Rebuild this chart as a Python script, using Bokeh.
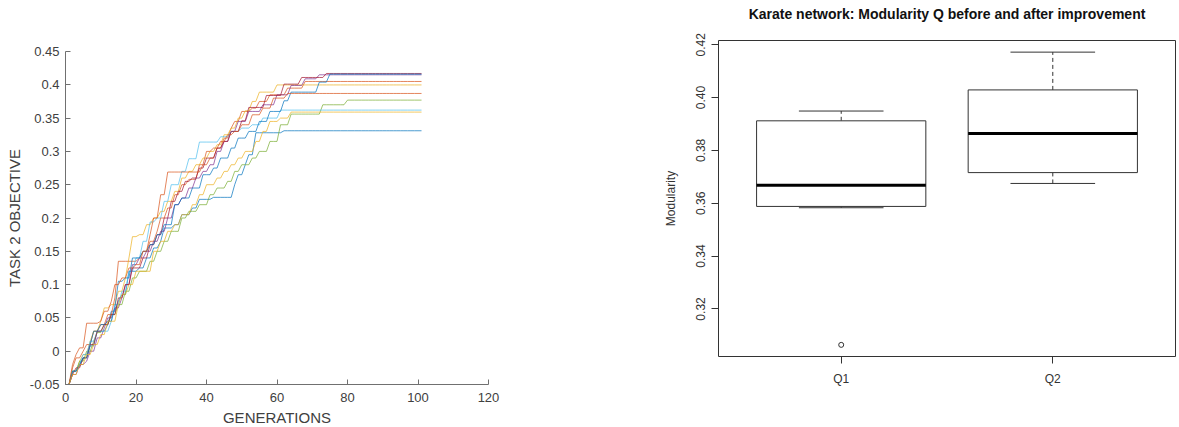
from bokeh.plotting import figure
from bokeh.models import FixedTicker, CustomJSTickFormatter, Range1d, Title
from bokeh.embed import file_html
from bokeh.resources import INLINE

# ---------------------------------------------------------------------------
# Task 2 objective per generation, stored as runs: generation where a level
# starts, and the objective level held from that generation onwards.
# ---------------------------------------------------------------------------
LAST_GEN = 101

run1_start = [1, 2, 4, 5, 7, 9, 12, 13, 15, 16, 18, 21, 23, 25, 27, 28, 31, 33, 36, 38, 42, 48, 49, 51, 52, 54, 62]
run1_level = [-0.05, -0.03, -0.022, -0.01, 0.008, 0.03, 0.04, 0.06, 0.075, 0.085, 0.12, 0.125, 0.14, 0.155, 0.165,
              0.185, 0.19, 0.205, 0.215, 0.228, 0.231, 0.25, 0.265, 0.28, 0.295, 0.328, 0.331]

run2_start = [1, 2, 3, 5, 6, 8, 10, 12, 14, 15, 21, 22, 24, 26, 27, 29, 31, 33, 35, 38, 41, 43, 45, 47, 48, 50, 53,
              55, 58, 63, 68]
run2_level = [-0.05, -0.025, -0.01, 0.0, 0.01, 0.03, 0.04, 0.055, 0.08, 0.135, 0.14, 0.15, 0.165, 0.18, 0.2, 0.215,
              0.235, 0.25, 0.258, 0.28, 0.29, 0.305, 0.32, 0.335, 0.345, 0.36, 0.365, 0.375, 0.385, 0.395, 0.405]

run3_start = [1, 2, 4, 5, 7, 8, 10, 11, 13, 15, 17, 18, 19, 21, 23, 25, 27, 29, 31, 33, 35, 37, 39, 41, 43, 45, 47,
              49, 51, 53, 55, 60]
run3_level = [-0.05, -0.03, -0.015, -0.005, 0.015, 0.03, 0.045, 0.065, 0.07, 0.09, 0.11, 0.14, 0.172, 0.175, 0.19,
              0.2, 0.21, 0.225, 0.24, 0.26, 0.27, 0.28, 0.29, 0.3, 0.31, 0.325, 0.335, 0.35, 0.361, 0.375, 0.389,
              0.3998]

run4_start = [1, 2, 4, 6, 7, 9, 11, 12, 14, 16, 17, 19, 21, 23, 25, 27, 29, 31, 33, 35, 37, 39, 41, 43, 45, 47, 49,
              52, 56, 60, 64, 68, 72]
run4_level = [-0.05, -0.035, -0.02, -0.015, 0.0, 0.02, 0.035, 0.05, 0.065, 0.08, 0.1, 0.13, 0.14, 0.15, 0.165, 0.18,
              0.2, 0.22, 0.23, 0.245, 0.26, 0.27, 0.28, 0.3, 0.315, 0.33, 0.345, 0.36, 0.37, 0.385, 0.399, 0.409,
              0.415]

run5_start = [1, 2, 4, 6, 8, 9, 11, 13, 15, 17, 19, 21, 24, 26, 28, 30, 33, 35, 38, 41, 43, 46, 48, 50, 53, 55, 58,
              61, 64, 73, 80]
run5_level = [-0.05, -0.03, -0.015, 0.0, 0.015, 0.028, 0.04, 0.055, 0.07, 0.09, 0.11, 0.12, 0.135, 0.15, 0.165, 0.18,
              0.2, 0.21, 0.22, 0.235, 0.245, 0.255, 0.27, 0.28, 0.29, 0.3, 0.315, 0.34, 0.356, 0.37, 0.377]

run6_start = [1, 2, 4, 5, 7, 9, 13, 14, 16, 18, 20, 22, 24, 26, 28, 30, 33, 35, 38, 44, 47, 50, 53, 56, 61]
run6_level = [-0.05, -0.03, -0.02, -0.005, 0.015, 0.03, 0.045, 0.07, 0.09, 0.12, 0.14, 0.165, 0.194, 0.2, 0.225, 0.25,
              0.27, 0.289, 0.314, 0.322, 0.33, 0.335, 0.34, 0.35, 0.362]

run7_start = [1, 2, 3, 5, 7, 9, 11, 13, 15, 17, 19, 22, 24, 26, 28, 30, 32, 34, 36, 38, 40, 43, 45, 47, 50, 52, 57,
              62, 67, 74]
run7_level = [-0.05, -0.035, -0.025, -0.01, 0.01, 0.03, 0.04, 0.055, 0.08, 0.1, 0.125, 0.14, 0.16, 0.175, 0.2, 0.225,
              0.24, 0.255, 0.26, 0.275, 0.29, 0.305, 0.315, 0.33, 0.346, 0.366, 0.384, 0.401, 0.411, 0.417]

run8_start = [1, 2, 4, 5, 7, 8, 10, 12, 14, 15, 17, 19, 22, 24, 26, 28, 31, 33, 36, 39, 42, 44, 47, 49, 52, 55, 58,
              62, 64, 72, 75]
run8_level = [-0.05, -0.03, -0.02, -0.01, 0.01, 0.03, 0.04, 0.045, 0.065, 0.105, 0.11, 0.14, 0.15, 0.16, 0.175, 0.19,
              0.22, 0.23, 0.245, 0.265, 0.275, 0.29, 0.305, 0.32, 0.33, 0.345, 0.36, 0.376, 0.389, 0.404, 0.416]

run9_start = [1, 2, 3, 4, 6, 10, 11, 13, 14, 16, 18, 20, 22, 24, 25, 27, 29, 39, 40, 42, 44, 46, 48, 50, 53, 56, 59,
              63]
run9_level = [-0.05, -0.02, -0.005, 0.005, 0.042, 0.045, 0.06, 0.075, 0.1, 0.11, 0.125, 0.13, 0.15, 0.175, 0.2, 0.235,
              0.269, 0.28, 0.3, 0.305, 0.315, 0.325, 0.33, 0.34, 0.355, 0.365, 0.38, 0.387]

run10_start = [1, 2, 4, 6, 8, 10, 12, 15, 16, 18, 20, 25, 27, 29, 31, 33, 36, 38, 40, 43, 45, 47, 49, 51, 54, 56, 58,
               61, 64]
run10_level = [-0.05, -0.035, -0.02, -0.005, 0.01, 0.025, 0.045, 0.07, 0.085, 0.1, 0.12, 0.15, 0.165, 0.18, 0.19,
               0.205, 0.22, 0.235, 0.25, 0.26, 0.27, 0.28, 0.29, 0.30, 0.315, 0.33, 0.345, 0.35, 0.359]

runs = [
    (run1_start, run1_level), (run2_start, run2_level), (run3_start, run3_level),
    (run4_start, run4_level), (run5_start, run5_level), (run6_start, run6_level),
    (run7_start, run7_level), (run8_start, run8_level), (run9_start, run9_level),
    (run10_start, run10_level),
]

# MATLAB default line colour order, cycling after seven runs
run_colors = ["#0072BD", "#D95319", "#EDB120", "#7E2F8E", "#77AC30", "#4DBEEE", "#A2142F",
              "#0072BD", "#D95319", "#EDB120"]

gen_ticks = [0, 20, 40, 60, 80, 100, 120]
obj_ticks = [-0.05, 0, 0.05, 0.1, 0.15, 0.2, 0.25, 0.3, 0.35, 0.4, 0.45]

# ---------------------------------------------------------------------------
# Karate network modularity summary (five-number summaries + outliers)
# ---------------------------------------------------------------------------
groups = ["Q1", "Q2"]
group_pos = [1, 2]
whisker_low = [0.3583, 0.3675]
box_low = [0.3588, 0.3716]
box_median = [0.3668, 0.3864]
box_high = [0.3912, 0.4029]
whisker_high = [0.3949, 0.4172]
outlier_pos = [1]
outlier_val = [0.3064]
mod_ticks = [0.32, 0.34, 0.36, 0.38, 0.40, 0.42]
box_title = "Karate network: Modularity Q before and after improvement"

FONT = "Liberation Sans"

# Two independent roots laid out side by side (each keeps its own borders)
PAGE_TEMPLATE = """
{% block postamble %}
<style>
  body { display: flex; flex-direction: row; align-items: flex-start; margin: 0; }
</style>
{% endblock %}
"""


def per_generation(starts, levels, last_gen=LAST_GEN):
    """Decode a run-length list into one value per generation."""
    vals = []
    for i, s in enumerate(starts):
        end = starts[i + 1] if i + 1 < len(starts) else last_gen + 1
        vals.extend([levels[i]] * (end - s))
    return list(range(1, last_gen + 1)), vals


# ---------------------------- left: convergence ----------------------------
p1 = figure(frame_width=423, frame_height=333, output_backend="svg", toolbar_location=None,
            x_range=Range1d(0, 120), y_range=Range1d(-0.05, 0.45),
            min_border_left=65, min_border_right=72, min_border_top=51, min_border_bottom=43)
p1.outline_line_color = None
p1.grid.grid_line_color = None
p1.background_fill_color = "white"
p1.border_fill_color = "white"

for (starts, levels), col in zip(runs, run_colors):
    g, v = per_generation(starts, levels)
    p1.line(g, v, line_color=col, line_width=1, line_alpha=0.7)

for ax in (p1.xaxis[0], p1.yaxis[0]):
    ax.axis_line_color = "#707070"
    ax.major_tick_line_color = "#707070"
    ax.major_tick_in = 5
    ax.major_tick_out = 0
    ax.minor_tick_line_color = None
    ax.major_label_text_font = FONT
    ax.major_label_text_font_size = "13px"
    ax.major_label_text_color = "#404040"
    ax.axis_label_text_font = FONT
    ax.axis_label_text_font_size = "15px"
    ax.axis_label_text_font_style = "normal"
    ax.axis_label_text_color = "#404040"

p1.xaxis.ticker = FixedTicker(ticks=gen_ticks)
p1.yaxis.ticker = FixedTicker(ticks=obj_ticks)
p1.yaxis.formatter = CustomJSTickFormatter(code="return String(Number(tick.toFixed(2)));")
p1.xaxis.axis_label = "GENERATIONS"
p1.yaxis.axis_label = "TASK 2 OBJECTIVE"
p1.xaxis.major_label_standoff = 8
p1.xaxis.axis_label_standoff = 4
p1.yaxis.major_label_standoff = 6
p1.yaxis.axis_label_standoff = 4

# ---------------------------- right: box plot -----------------------------
p2 = figure(frame_width=457, frame_height=316, output_backend="svg", toolbar_location=None,
            x_range=Range1d(0.42, 2.58), y_range=Range1d(0.3020, 0.4216), title=None,
            min_border_left=158, min_border_right=4, min_border_top=40, min_border_bottom=71)
p2.grid.grid_line_color = None
p2.outline_line_color = "#333333"
p2.outline_line_width = 1
p2.background_fill_color = "white"
p2.border_fill_color = "white"

# gap between the frame and the heading, then the heading itself
p2.add_layout(Title(text=" ", text_font=FONT, text_font_size="10px", standoff=4), "above")
p2.add_layout(Title(text=box_title, align="center", text_font=FONT, text_font_size="14px",
                    text_font_style="bold", text_color="#111111", standoff=4), "above")

box_w = 0.8
cap_w = 0.4
left_edge = [x - box_w / 2 for x in group_pos]
right_edge = [x + box_w / 2 for x in group_pos]
cap_l = [x - cap_w / 2 for x in group_pos]
cap_r = [x + cap_w / 2 for x in group_pos]

# dashed whiskers
p2.segment(group_pos, box_high, group_pos, whisker_high, line_color="#333333", line_width=1, line_dash="4 3")
p2.segment(group_pos, whisker_low, group_pos, box_low, line_color="#333333", line_width=1, line_dash="4 3")
# whisker caps
p2.segment(cap_l, whisker_high, cap_r, whisker_high, line_color="#333333", line_width=1)
p2.segment(cap_l, whisker_low, cap_r, whisker_low, line_color="#333333", line_width=1)
# boxes
p2.quad(left=left_edge, right=right_edge, bottom=box_low, top=box_high,
        fill_color="white", line_color="#333333", line_width=1)
# medians
p2.segment(left_edge, box_median, right_edge, box_median, line_color="black", line_width=3)
# outliers
p2.scatter(outlier_pos, outlier_val, marker="circle", size=5, fill_color=None,
           line_color="#333333", line_width=1)

for ax in (p2.xaxis[0], p2.yaxis[0]):
    ax.axis_line_color = None
    ax.major_tick_line_color = "#333333"
    ax.major_tick_in = 0
    ax.major_tick_out = 7
    ax.minor_tick_line_color = None
    ax.major_label_text_font = FONT
    ax.major_label_text_font_size = "12px"
    ax.major_label_text_color = "#333333"
    ax.axis_label_text_font = FONT
    ax.axis_label_text_font_size = "12px"
    ax.axis_label_text_font_style = "normal"
    ax.axis_label_text_color = "#333333"

p2.xaxis.ticker = FixedTicker(ticks=group_pos)
p2.xaxis.major_label_overrides = {pos: name for pos, name in zip(group_pos, groups)}
p2.xaxis.major_label_standoff = 8
p2.yaxis.ticker = FixedTicker(ticks=mod_ticks)
p2.yaxis.formatter = CustomJSTickFormatter(code="return tick.toFixed(2);")
p2.yaxis.major_label_orientation = "vertical"
p2.yaxis.major_label_standoff = 6
p2.yaxis.axis_label = "Modularity"
p2.yaxis.axis_label_standoff = 16

open("out.html", "w").write(file_html([p1, p2], INLINE, template=PAGE_TEMPLATE))
